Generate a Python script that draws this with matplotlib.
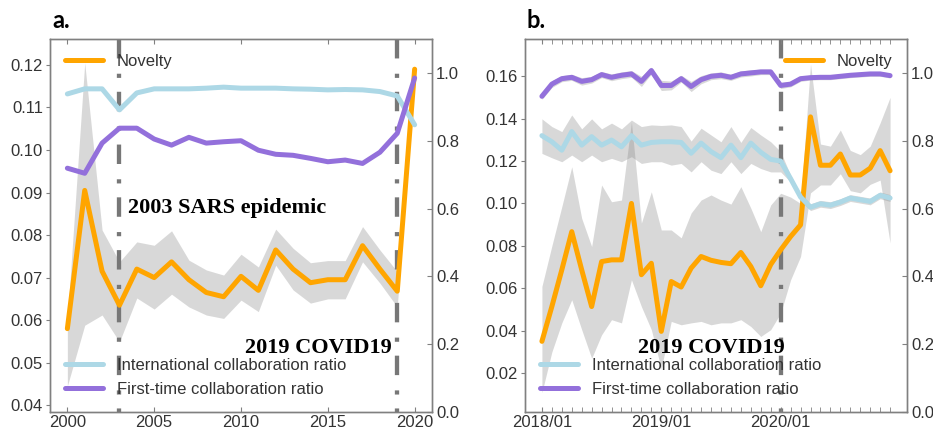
import numpy as np
import matplotlib
matplotlib.use("Agg")
import matplotlib.pyplot as plt

plt.rcParams['font.family'] = ['Liberation Sans', 'DejaVu Sans']
plt.rcParams['lines.scale_dashes'] = False

# ---- panel a : yearly ----
years = list(range(2000, 2021))
nov_a = [0.058, 0.0905, 0.0715, 0.0635, 0.072, 0.070, 0.0737, 0.0695, 0.0665, 0.0655,
         0.0703, 0.067, 0.0765, 0.072, 0.0688, 0.0695, 0.0695, 0.0775, 0.072, 0.0668, 0.119]
nov_a_hi = [0.060, 0.1205, 0.0812, 0.0737, 0.0784, 0.0776, 0.081, 0.0741, 0.0718, 0.0706,
            0.0755, 0.0725, 0.0814, 0.0769, 0.0735, 0.074, 0.074, 0.082, 0.0765, 0.0714, 0.1195]
nov_a_lo = [0.0445, 0.0588, 0.0612, 0.0549, 0.0652, 0.0626, 0.0661, 0.0631, 0.0612, 0.0604,
            0.0647, 0.062, 0.0729, 0.0671, 0.064, 0.065, 0.065, 0.0737, 0.0687, 0.0631, 0.1185]
intl_a = [0.938, 0.953, 0.953, 0.891, 0.941, 0.953, 0.953, 0.953, 0.955, 0.958, 0.955,
          0.955, 0.955, 0.953, 0.952, 0.950, 0.951, 0.950, 0.945, 0.932, 0.847]
first_a = [0.719, 0.704, 0.793, 0.837, 0.837, 0.805, 0.787, 0.81, 0.793, 0.797, 0.80,
           0.772, 0.760, 0.757, 0.748, 0.738, 0.743, 0.733, 0.766, 0.822, 0.985]
events_a = [2003, 2019]

# ---- panel b : monthly 2018/01 - 2020/12 ----
months = list(range(36))
month_ticks = [0, 12, 24]
month_labels = ['2018/01', '2019/01', '2020/01']
nov_b = [0.035, 0.0514, 0.0687, 0.0867, 0.0687, 0.0514, 0.0726, 0.0734, 0.0734, 0.100,
         0.0664, 0.0718, 0.0397, 0.0632, 0.0606, 0.0695, 0.075, 0.0732, 0.0722, 0.0716,
         0.0769, 0.0703, 0.0612, 0.0712, 0.0781, 0.0844, 0.0899, 0.1408, 0.118, 0.118,
         0.1233, 0.1134, 0.1134, 0.1166, 0.1249, 0.1154]
nov_b_hi = [0.0609, 0.080, 0.0985, 0.1173, 0.093, 0.0797, 0.1087, 0.1008, 0.1016, 0.1385,
            0.0908, 0.1055, 0.0875, 0.0875, 0.0838, 0.0955, 0.1016, 0.104, 0.1016, 0.0997,
            0.1079, 0.0978, 0.0867, 0.0993, 0.1048, 0.103, 0.100, 0.1657, 0.128, 0.127,
            0.1346, 0.125, 0.123, 0.127, 0.138, 0.150]
nov_b_lo = [0.0108, 0.030, 0.0437, 0.0546, 0.0405, 0.027, 0.0381, 0.0452, 0.0437, 0.064,
            0.0514, 0.0405, 0.022, 0.0444, 0.0428, 0.0437, 0.0444, 0.0428, 0.0437, 0.0437,
            0.0452, 0.042, 0.0373, 0.0405, 0.0483, 0.064, 0.075, 0.105, 0.1087, 0.1087,
            0.114, 0.106, 0.105, 0.109, 0.111, 0.0813]
intl_b = [0.815, 0.797, 0.772, 0.827, 0.787, 0.812, 0.787, 0.802, 0.782, 0.815, 0.787,
          0.795, 0.797, 0.797, 0.795, 0.763, 0.793, 0.768, 0.75, 0.787, 0.75, 0.793,
          0.766, 0.745, 0.74, 0.688, 0.634, 0.604, 0.614, 0.61, 0.619, 0.631, 0.626,
          0.621, 0.639, 0.631]
intl_b_hi = [0.8645, 0.8418, 0.827, 0.876, 0.835, 0.8645, 0.835, 0.852, 0.835, 0.861,
             0.8418, 0.8466, 0.845, 0.8466, 0.8418, 0.799, 0.837, 0.817, 0.797, 0.8418,
             0.795, 0.839, 0.817, 0.797, 0.768, 0.698, 0.644, 0.614, 0.624, 0.62, 0.629,
             0.641, 0.636, 0.631, 0.649, 0.641]
intl_b_lo = [0.7626, 0.7497, 0.738, 0.7576, 0.738, 0.7576, 0.738, 0.748, 0.738, 0.753,
             0.733, 0.738, 0.738, 0.728, 0.733, 0.708, 0.738, 0.713, 0.703, 0.738, 0.703,
             0.733, 0.718, 0.708, 0.708, 0.678, 0.624, 0.594, 0.604, 0.60, 0.609, 0.621,
             0.616, 0.611, 0.629, 0.621]
first_b = [0.931, 0.967, 0.983, 0.987, 0.975, 0.98, 0.995, 0.987, 0.993, 0.997, 0.975,
           1.007, 0.963, 0.963, 0.983, 0.96, 0.98, 0.99, 0.993, 0.987, 0.997, 1.0, 1.003,
           1.003, 0.963, 0.967, 0.983, 0.986, 0.987, 0.987, 0.99, 0.993, 0.995, 0.997,
           0.997, 0.992]
first_b_hi = [0.940, 0.977, 0.992, 0.996, 0.986, 0.990, 1.004, 0.997, 1.003, 1.007, 0.990,
              1.017, 0.978, 0.976, 0.993, 0.975, 0.992, 1.000, 1.003, 0.996, 1.006, 1.009,
              1.011, 1.011, 0.972, 0.975, 0.991, 0.993, 0.994, 0.994, 0.997, 1.000, 1.002,
              1.004, 1.004, 0.999]
first_b_lo = [0.922, 0.957, 0.974, 0.978, 0.964, 0.970, 0.986, 0.977, 0.983, 0.987, 0.960,
              0.997, 0.948, 0.950, 0.973, 0.945, 0.968, 0.980, 0.983, 0.978, 0.988, 0.991,
              0.995, 0.995, 0.954, 0.959, 0.975, 0.979, 0.980, 0.980, 0.983, 0.986, 0.988,
              0.990, 0.990, 0.985]
events_b = [24]

C_NOV = '#FFA500'
C_INT = '#ADD8E6'
C_FIRST = '#9370DB'
C_SPINE = '#808080'
C_TXT = '#333333'
LW = 3.6


def style_axes(ax, ax2):
	for a in (ax, ax2):
		for s in a.spines.values():
			s.set_color(C_SPINE)
			s.set_linewidth(1.0)
	ax.tick_params(axis='y', direction='out', length=3, pad=2, color=C_SPINE,
			labelcolor=C_TXT, labelsize=12)
	ax.tick_params(axis='x', which='both', direction='in', top=True, length=3.5,
			pad=2, color=C_SPINE, labelcolor=C_TXT, labelsize=12)
	ax2.tick_params(axis='y', direction='in', length=3.5, pad=3, color=C_SPINE,
			labelcolor=C_TXT, labelsize=12)
	ax2.set_ylim(0, 1.1)
	ax2.set_yticks([0.0, 0.2, 0.4, 0.6, 0.8, 1.0])
	ax2.yaxis.set_major_formatter(matplotlib.ticker.FormatStrFormatter('%.1f'))


def event_lines(ax, xs):
	for x in xs:
		ax.plot([x, x], [1, 0], transform=ax.get_xaxis_transform(), color='#777777',
			lw=3.1, dashes=[14, 11, 3, 10], solid_capstyle='butt', zorder=1.5)


def draw_panel(ax, x, nov, nov_lo, nov_hi, intl, first, bands2=None):
	ax2 = ax.twinx()
	ax.fill_between(x, nov_lo, nov_hi, color='gray', alpha=0.3, lw=0, zorder=1)
	ln_nov, = ax.plot(x, nov, color=C_NOV, lw=LW, solid_capstyle='round',
			solid_joinstyle='round', zorder=3, label='Novelty')
	if bands2 is not None:
		for lo, hi in bands2:
			ax2.fill_between(x, lo, hi, color='gray', alpha=0.3, lw=0, zorder=1)
	ln_int, = ax2.plot(x, intl, color=C_INT, lw=LW, solid_capstyle='round',
			solid_joinstyle='round', zorder=3, label='International collaboration ratio')
	ln_first, = ax2.plot(x, first, color=C_FIRST, lw=LW, solid_capstyle='round',
			solid_joinstyle='round', zorder=3, label='First-time collaboration ratio')
	style_axes(ax, ax2)
	return ax2


fig = plt.figure(figsize=(9.33, 4.32), dpi=100)
axa = fig.add_axes([50 / 933, 20 / 432, 382 / 933, 373 / 432])
axb = fig.add_axes([525 / 933, 20 / 432, 382 / 933, 373 / 432])

# panel a
axa2 = draw_panel(axa, years, nov_a, nov_a_lo, nov_a_hi, intl_a, first_a)
axa.set_xlim(1999, 2021)
axa.set_ylim(0.0384, 0.1261)
axa.set_xticks([2000, 2005, 2010, 2015, 2020])
axa.set_yticks([0.04, 0.05, 0.06, 0.07, 0.08, 0.09, 0.10, 0.11, 0.12])
axa.yaxis.set_major_formatter(matplotlib.ticker.FormatStrFormatter('%.2f'))
event_lines(axa, events_a)
axa.legend(loc='upper left', frameon=False, fontsize=12, handlelength=2.3,
	labelcolor=C_TXT, borderaxespad=0.5)
axa2.legend(loc='lower left', frameon=False, fontsize=12, handlelength=2.3,
	labelcolor=C_TXT, labelspacing=0.55, borderaxespad=0.5)
axa.text(2009.22, 0.0864, '2003 SARS epidemic', family='Liberation Serif',
	weight='bold', fontsize=16, ha='center', va='center', zorder=6)
axa.text(2014.45, 0.0534, '2019 COVID19', family='Liberation Serif',
	weight='bold', fontsize=16, ha='center', va='center', zorder=6)

# panel b
axb2 = draw_panel(axb, months, nov_b, nov_b_lo, nov_b_hi, intl_b, first_b,
	bands2=[(intl_b_lo, intl_b_hi), (first_b_lo, first_b_hi)])
axb.set_xlim(-1.7, 36.7)
axb.set_ylim(0.0017, 0.1775)
axb.set_xticks(month_ticks)
axb.set_xticklabels(month_labels)
axb.set_xticks(months, minor=True)
axb.tick_params(axis='x', which='minor', length=3.5)
axb.set_yticks([0.02, 0.04, 0.06, 0.08, 0.10, 0.12, 0.14, 0.16])
axb.yaxis.set_major_formatter(matplotlib.ticker.FormatStrFormatter('%.2f'))
event_lines(axb, events_b)
axb.legend(loc='upper right', frameon=False, fontsize=12, handlelength=2.3,
	labelcolor=C_TXT, borderaxespad=0.5)
axb2.legend(loc='lower left', frameon=False, fontsize=12, handlelength=2.3,
	labelcolor=C_TXT, labelspacing=0.55, borderaxespad=0.5)
axb.text(17.06, 0.032, '2019 COVID19', family='Liberation Serif',
	weight='bold', fontsize=16, ha='center', va='center', zorder=6)

fig.text(52 / 933, 1 - 28 / 432, 'a.', family='Lato', weight='bold', fontsize=17,
	va='baseline')
fig.text(527 / 933, 1 - 28 / 432, 'b.', family='Lato', weight='bold', fontsize=17,
	va='baseline')

fig.savefig('out.png', dpi=100)
